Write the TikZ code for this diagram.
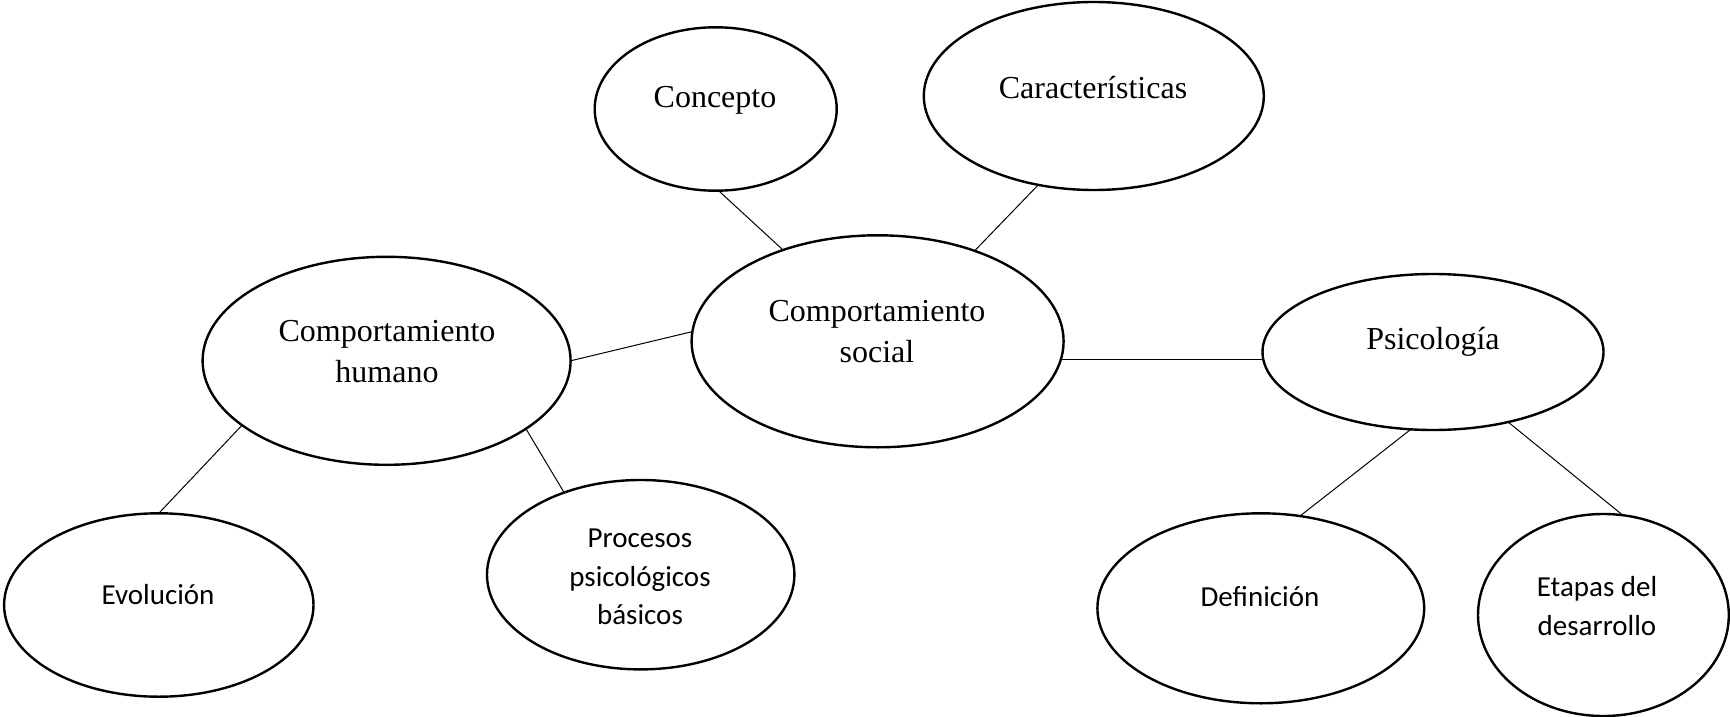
\documentclass[tikz,border=0pt]{standalone}
\usepackage{fontspec}
\setmainfont{Liberation Serif}
\newfontfamily\calibri{Carlito}
\usetikzlibrary{shapes.geometric}

\begin{document}
\begin{tikzpicture}[x=0.5pt,y=-0.5pt,
    bubble/.style={ellipse,draw,line width=1.2pt,inner sep=0pt,outer sep=0pt},
    serif/.style={align=center,font=\fontsize{16}{20.5}\selectfont},
    sans/.style={align=center,font=\calibri\fontsize{14.5}{19.2}\selectfont},
    link/.style={line width=.5pt}]
      \useasboundingbox (0,0) rectangle (1730,717);
      % ellipses
      \node[bubble,minimum width=121pt,minimum height=81.7pt] (concepto) at (715.7,109) {};
      \node[bubble,minimum width=170pt,minimum height=94pt] (caract) at (1093.8,96) {};
      \node[bubble,minimum width=184pt,minimum height=104pt] (humano) at (386.6,360.8) {};
      \node[bubble,minimum width=186pt,minimum height=106pt] (social) at (877.6,341.3) {};
      \node[bubble,minimum width=170.5pt,minimum height=78pt] (psico) at (1433,352) {};
      \node[bubble,minimum width=154.7pt,minimum height=91.7pt] (evolucion) at (158.8,605) {};
      \node[bubble,minimum width=153.7pt,minimum height=94.7pt] (procesos) at (640.7,574.7) {};
      \node[bubble,minimum width=163.4pt,minimum height=95pt] (definicion) at (1260.8,608.3) {};
      \node[bubble,minimum width=125.4pt,minimum height=101pt] (etapas) at (1603.4,615) {};
      % texts
      \node[serif] (concepto-t) at (715,100) {Concepto};
      \node[serif] (caract-t) at (1093,88) {Características};
      \node[serif] (humano-t) at (387,352) {Comportamiento\\humano};
      \node[serif] (social-t) at (877,332) {Comportamiento\\social};
      \node[serif] (psico-t) at (1433,342) {Psicología};
      \node[sans] (evolucion-t) at (158,595) {Evolución};
      \node[sans] (procesos-t) at (640,577) {Procesos\\psicológicos\\básicos};
      \node[sans] (definicion-t) at (1260,597) {Definición};
      \node[sans] (etapas-t) at (1597,606) {Etapas del\\desarrollo};
      % links
      \coordinate (s-p) at (1060,359.3);
      \draw[link] (concepto.-88) -- (social.136);
      \draw[link] (caract.-122.4) -- (social.43.5);
      \draw[link] (humano.0.5) -- (social.177.4);
      \draw[link] (s-p) -- (psico.west |- s-p);
      \draw[link] (humano.-156) -- (evolucion.90.8);
      \draw[link] (humano.-26.7) -- (procesos.133.5);
      \draw[link] (psico.-106.7) -- (definicion.67.7);
      \draw[link] (psico.-43.8) -- (etapas.79.6);
    \end{tikzpicture}
\end{document}
